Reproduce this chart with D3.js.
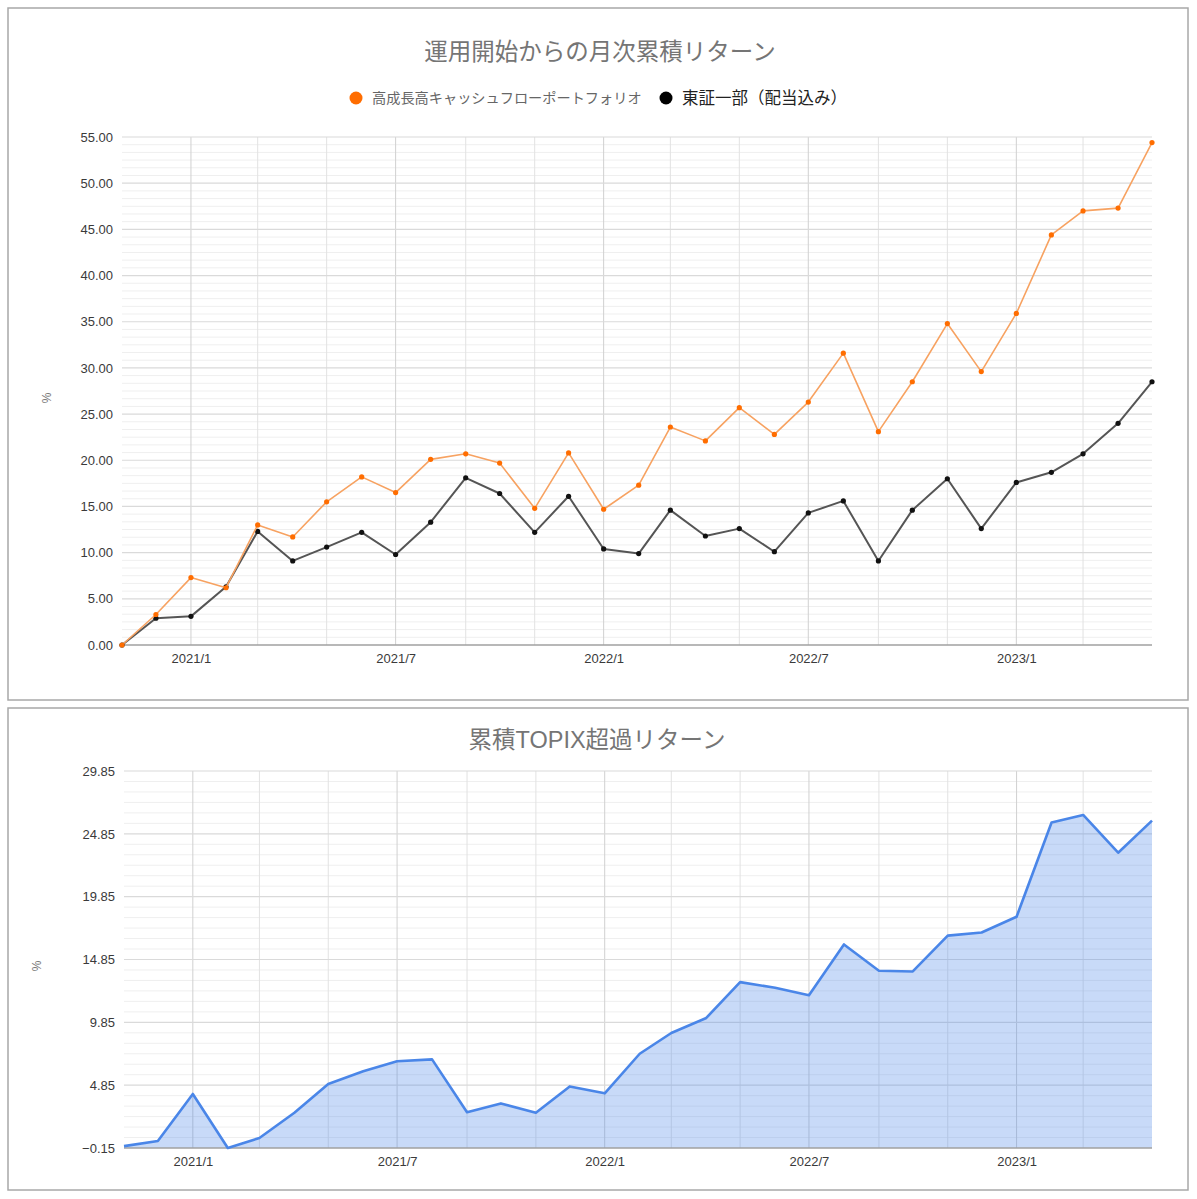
<!DOCTYPE html>
<html>
<head>
<meta charset="utf-8">
<script src="https://cdn.jsdelivr.net/npm/d3@7"></script>
<style>
body{margin:0;background:#fff;font-family:"Liberation Sans",Arial,"Noto Sans CJK JP",sans-serif;}
</style>
</head>
<body>
<div id="view"></div>
<script>
// 月次累積リターン / 累積TOPIX超過リターン

var months = ["2020/11","2020/12",
    "2021/1","2021/2","2021/3","2021/4","2021/5","2021/6","2021/7","2021/8","2021/9","2021/10","2021/11","2021/12",
    "2022/1","2022/2","2022/3","2022/4","2022/5","2022/6","2022/7","2022/8","2022/9","2022/10","2022/11","2022/12",
    "2023/1","2023/2","2023/3","2023/4","2023/5"];

// 高成長高キャッシュフローポートフォリオ
var portfolio = [0, 3.3, 7.3, 6.2, 13.0, 11.7, 15.5, 18.2, 16.5, 20.1, 20.7, 19.7, 14.8, 20.8,
    14.7, 17.3, 23.6, 22.1, 25.7, 22.8, 26.3, 31.6, 23.1, 28.5, 34.8, 29.6,
    35.9, 44.4, 47.0, 47.3, 54.4];

// 東証一部（配当込み）
var topix = [0, 2.9, 3.1, 6.3, 12.3, 9.1, 10.6, 12.2, 9.8, 13.3, 18.1, 16.4, 12.2, 16.1,
    10.4, 9.9, 14.6, 11.8, 12.6, 10.1, 14.3, 15.6, 9.1, 14.6, 18.0, 12.6,
    17.6, 18.7, 20.7, 24.0, 28.5];

// 累積TOPIX超過リターン
var excess = [0, 0.4, 4.15, -0.15, 0.65, 2.65, 4.95, 5.95, 6.75, 6.9, 2.7, 3.4, 2.65, 4.75,
    4.2, 7.35, 9.0, 10.2, 13.05, 12.6, 12.0, 16.05, 13.95, 13.9, 16.75, 17.0,
    18.25, 25.75, 26.35, 23.35, 25.9];

var yTicksTop = [0, 5, 10, 15, 20, 25, 30, 35, 40, 45, 50, 55];
var yTicksBottom = [-0.15, 4.85, 9.85, 14.85, 19.85, 24.85, 29.85];
var xTickLabels = ["2021/1", "2021/7", "2022/1", "2022/7", "2023/1"];

var seriesNames = ["高成長高キャッシュフローポートフォリオ", "東証一部（配当込み）"];

var resketch = {
    param: {
	width: 1197,
	height: 1199,
	minorPerMajor: 6,
	top: {box: [8, 8, 1180, 692], left: 122, right: 1152, ytop: 137, ybottom: 645, titleY: 60, titleX: 600, titleSize: 23.5, pctX: 51, legendY: 98},
	bottom: {box: [8, 708, 1180, 482], left: 124, right: 1152, ytop: 771, ybottom: 1148, titleY: 748, titleX: 597, titleSize: 23.5, pctX: 41},
	orange: "#ff6d00",
	orangeLine: "#f7a261",
	blue: "#4a86e8"
    },

    init: function(){
	var param = resketch.param;
	var parse = d3.timeParse("%Y/%m");
	param.dates = months.map(parse);
	param.labelDates = xTickLabels.map(parse);

	var svg = d3.select("#view").append("svg")
	    .attr("width", param.width)
	    .attr("height", param.height);

	resketch.top_chart(svg);
	resketch.bottom_chart(svg);
    },

    frame: function(svg, p, title){
	svg.append("rect")
	    .attr("x", p.box[0]).attr("y", p.box[1])
	    .attr("width", p.box[2]).attr("height", p.box[3])
	    .attr("fill", "#fff").attr("stroke", "#a8a8a8").attr("stroke-width", 1.5);
	svg.append("text")
	    .attr("x", p.titleX).attr("y", p.titleY)
	    .attr("text-anchor", "middle")
	    .attr("font-size", p.titleSize).attr("fill", "#757575")
	    .text(title);
    },

    pct: function(svg, p, cy){
	svg.append("text")
	    .attr("transform", "translate(" + p.pctX + "," + cy + ") rotate(-90)")
	    .attr("text-anchor", "middle").attr("font-size", 12).attr("fill", "#777").text("%");
    },

    grid: function(svg, x, y, p, majors){
	var param = resketch.param;
	var g = svg.append("g");
	var step = majors[1] - majors[0];
	var minors = [];
	majors.slice(0, -1).forEach(function(t){
	    for(var k = 1; k < param.minorPerMajor; k++) minors.push(t + k * step / param.minorPerMajor);
	});
	g.selectAll(".hminor").data(minors).enter().append("line")
	    .attr("x1", p.left).attr("x2", p.right)
	    .attr("y1", function(d){ return y(d); }).attr("y2", function(d){ return y(d); })
	    .attr("stroke", "#efefef").attr("stroke-width", 1);
	var vlines = x.ticks(d3.timeMonth.every(2)).filter(function(d){
	    var px = x(d); return px > p.left + 1 && px < p.right - 1;
	});
	g.selectAll(".vline").data(vlines).enter().append("line")
	    .attr("x1", function(d){ return x(d); }).attr("x2", function(d){ return x(d); })
	    .attr("y1", p.ytop).attr("y2", p.ybottom)
	    .attr("stroke", function(d){ return (d.getMonth() % 6 === 0) ? "#d0d0d0" : "#e2e2e2"; })
	    .attr("stroke-width", 1);
	g.selectAll(".hmajor").data(majors.slice(1)).enter().append("line")
	    .attr("x1", p.left).attr("x2", p.right)
	    .attr("y1", function(d){ return y(d); }).attr("y2", function(d){ return y(d); })
	    .attr("stroke", "#dadada").attr("stroke-width", 1.2);
    },

    axes: function(svg, x, y, p, majors){
	var param = resketch.param;
	var ya = svg.append("g").attr("transform", "translate(" + p.left + ",0)")
	    .call(d3.axisLeft(y).tickValues(majors).tickFormat(d3.format(".2f")).tickSize(0).tickPadding(9));
	var xa = svg.append("g").attr("transform", "translate(0," + p.ybottom + ")")
	    .call(d3.axisBottom(x).tickValues(param.labelDates).tickFormat(d3.timeFormat("%Y/%-m")).tickSize(0).tickPadding(9));
	[ya, xa].forEach(function(a){
	    a.select(".domain").remove();
	    a.selectAll("text").attr("font-size", 13).attr("fill", "#3a3a3a")
		.attr("font-family", "'Liberation Sans', Arial, sans-serif");
	});
	svg.append("line")
	    .attr("x1", p.left).attr("x2", p.right)
	    .attr("y1", p.ybottom).attr("y2", p.ybottom)
	    .attr("stroke", "#a0a0a0").attr("stroke-width", 1.6);
    },

    top_chart: function(svg){
	var param = resketch.param;
	var p = param.top;
	resketch.frame(svg, p, "運用開始からの月次累積リターン");

	var x = d3.scaleTime().domain(d3.extent(param.dates)).range([p.left, p.right]);
	var y = d3.scaleLinear().domain([0, 55]).range([p.ybottom, p.ytop]);

	resketch.grid(svg, x, y, p, yTicksTop);
	resketch.axes(svg, x, y, p, yTicksTop);
	resketch.pct(svg, p, 398);

	// legend
	var lg = svg.append("g");
	lg.append("circle").attr("cx", 356).attr("cy", p.legendY).attr("r", 6.5).attr("fill", param.orange);
	lg.append("text").attr("x", 372).attr("y", p.legendY + 5).attr("font-size", 14.2).attr("fill", "#666")
	    .text(seriesNames[0]);
	lg.append("circle").attr("cx", 666).attr("cy", p.legendY).attr("r", 6.5).attr("fill", "#000");
	lg.append("text").attr("x", 682).attr("y", p.legendY + 6).attr("font-size", 16.5).attr("fill", "#222")
	    .text(seriesNames[1]);

	var series = [
	    {values: topix, line: "#555", dot: "#111", w: 2},
	    {values: portfolio, line: param.orangeLine, dot: param.orange, w: 1.6}
	];
	series.forEach(function(s){
	    var line = d3.line()
		.x(function(d, i){ return x(param.dates[i]); })
		.y(function(d){ return y(d); });
	    svg.append("path").datum(s.values)
		.attr("d", line).attr("fill", "none")
		.attr("stroke", s.line).attr("stroke-width", s.w).attr("stroke-linejoin", "round");
	    svg.append("g").selectAll("circle").data(s.values).enter().append("circle")
		.attr("cx", function(d, i){ return x(param.dates[i]); })
		.attr("cy", function(d){ return y(d); })
		.attr("r", 2.6).attr("fill", s.dot);
	});
    },

    bottom_chart: function(svg){
	var param = resketch.param;
	var p = param.bottom;
	resketch.frame(svg, p, "累積TOPIX超過リターン");

	var x = d3.scaleTime().domain(d3.extent(param.dates)).range([p.left, p.right]);
	var y = d3.scaleLinear().domain([yTicksBottom[0], yTicksBottom[yTicksBottom.length - 1]]).range([p.ybottom, p.ytop]);

	resketch.grid(svg, x, y, p, yTicksBottom);

	var area = d3.area()
	    .x(function(d, i){ return x(param.dates[i]); })
	    .y0(y(yTicksBottom[0]))
	    .y1(function(d){ return y(d); });
	svg.append("path").datum(excess)
	    .attr("d", area).attr("fill", param.blue).attr("fill-opacity", 0.3);

	resketch.axes(svg, x, y, p, yTicksBottom);

	var line = d3.line()
	    .x(function(d, i){ return x(param.dates[i]); })
	    .y(function(d){ return y(d); });
	svg.append("path").datum(excess)
	    .attr("d", line).attr("fill", "none")
	    .attr("stroke", param.blue).attr("stroke-width", 2.6).attr("stroke-linejoin", "round");

	resketch.pct(svg, p, 966);
    }
};

resketch.init();
</script>
</body>
</html>
